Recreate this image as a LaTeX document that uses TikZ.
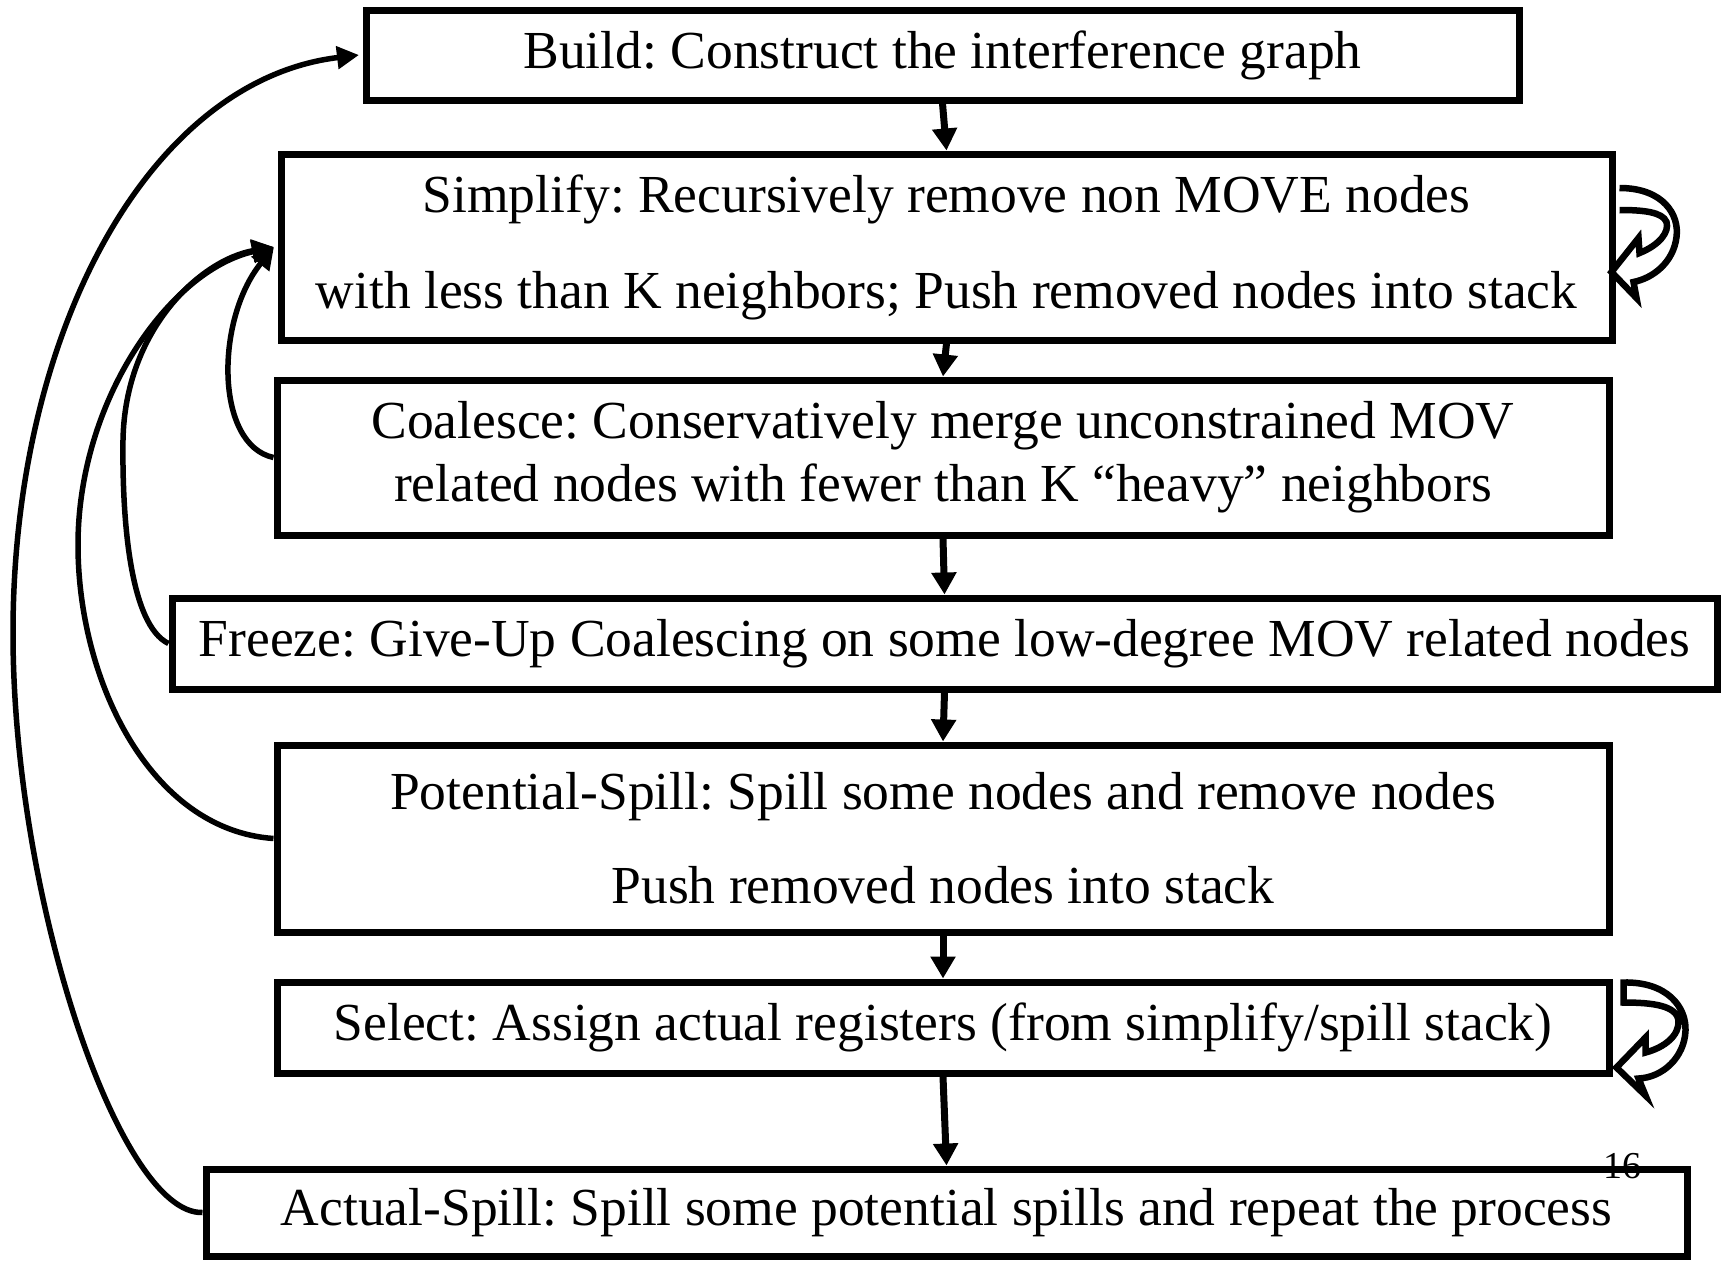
\documentclass[tikz,border=0pt]{standalone}
\usepackage{fontspec}
\setmainfont{Liberation Serif}
\usetikzlibrary{arrows.meta}
\begin{document}
\frenchspacing
\begin{tikzpicture}[x=1pt,y=-1pt,
  box/.style={draw, line width=7pt, rectangle, inner sep=0pt, align=center,
    font=\fontsize{53.5}{63}\selectfont},
  flow/.style={line width=7pt, -{Triangle[length=22pt,width=24pt]}},
  back/.style={line width=5.5pt, -{Triangle[length=22pt,width=22pt]}},
  loopband/.style={line width=6.5pt, line join=miter}]
\useasboundingbox (0,0) rectangle (1725,1261);
\fill[white] (0,0) rectangle (1725,1261);

\node[box, minimum width=1153pt, minimum height=90pt] (build) at (942.5,55)
  {Build: Construct the interference graph};
\node[box, minimum width=1331pt, minimum height=186pt] (simplify) at (946.5,247)
  {Simplify: Recursively remove non MOVE nodes\\[33pt]with less than K neighbors; Push removed nodes into stack};
\node[box, minimum width=1332pt, minimum height=155pt] (coalesce) at (943,457.5)
  {Coalesce: Conservatively merge unconstrained MOV\\related nodes with fewer than K “heavy” neighbors};
\node[box, minimum width=1545pt, minimum height=91pt] (freeze) at (944.5,643.5)
  {Freeze: Give-Up Coalescing on some low-degree MOV related nodes};
\node[box, minimum width=1332pt, minimum height=187pt] (potential) at (943,838.5)
  {Potential-Spill: Spill some nodes and remove nodes\\[31pt]Push removed nodes into stack};
\node[box, minimum width=1332pt, minimum height=91pt] (select) at (943,1027.5)
  {Select: Assign actual registers (from simplify/spill stack)};
\node[box, minimum width=1481pt, minimum height=87pt] (actual) at (946.5,1212.5)
  {Actual-Spill: Spill some potential spills and repeat the process};
\node[inner sep=0pt, font=\fontsize{38}{44}\selectfont] (pagenum) at (1622,1166) {16};

% main flow
\draw[flow] (build.south) -- (simplify.north);
\draw[flow] (simplify.south) -- (coalesce.north);
\draw[flow] (coalesce.south) -- (freeze.north);
\draw[flow] (freeze.south) -- (potential.north);
\draw[flow] (potential.south) -- (select.north);
\draw[flow] (select.south) -- (actual.north);

% feedback curves
\coordinate (buildIn) at ([xshift=-3.5pt]build.west);
\coordinate (simpIn) at ([xshift=-3.5pt]simplify.west);
\draw[back] (actual.west) .. controls (120,1215) and (13,900) .. (13,633)
  .. controls (13,330) and (150,80) .. (buildIn);
\draw[back] (potential.west) .. controls (150,830) and (78,680) .. (78,545)
  .. controls (78,400) and (170,270) .. (simpIn);
\draw[back] (freeze.west) .. controls (130,625) and (122,520) .. (123,440)
  .. controls (125,330) and (200,260) .. (simpIn);
\draw[back] (coalesce.west) .. controls (215,445) and (215,320) .. (simpIn);

% self loops (outlined curved arrows)
\begin{scope}[shift={(simplify.east)}]
\draw[loopband] (4,-59) .. controls (48,-59) and (64,-32) .. (61,-10)
  .. controls (58,15) and (38,31) .. (18,35) -- (21,51) -- (-4,25) -- (23,-9) -- (24,6)
  .. controls (44,-2) and (54,-15) .. (51,-25) .. controls (47,-35) and (28,-37) .. (4,-37);
\end{scope}
\begin{scope}[shift={(select.east)}]
\draw[loopband] (11,-25) -- (11,-45) .. controls (55,-46) and (74,-20) .. (73,3)
  .. controls (72,30) and (50,50) .. (26,51) -- (33,68) -- (4,40) -- (33,10) -- (33,25)
  .. controls (52,20) and (67,8) .. (66,-7) .. controls (64,-22) and (40,-25) .. (11,-25) -- cycle;
\end{scope}
\end{tikzpicture}
\end{document}
